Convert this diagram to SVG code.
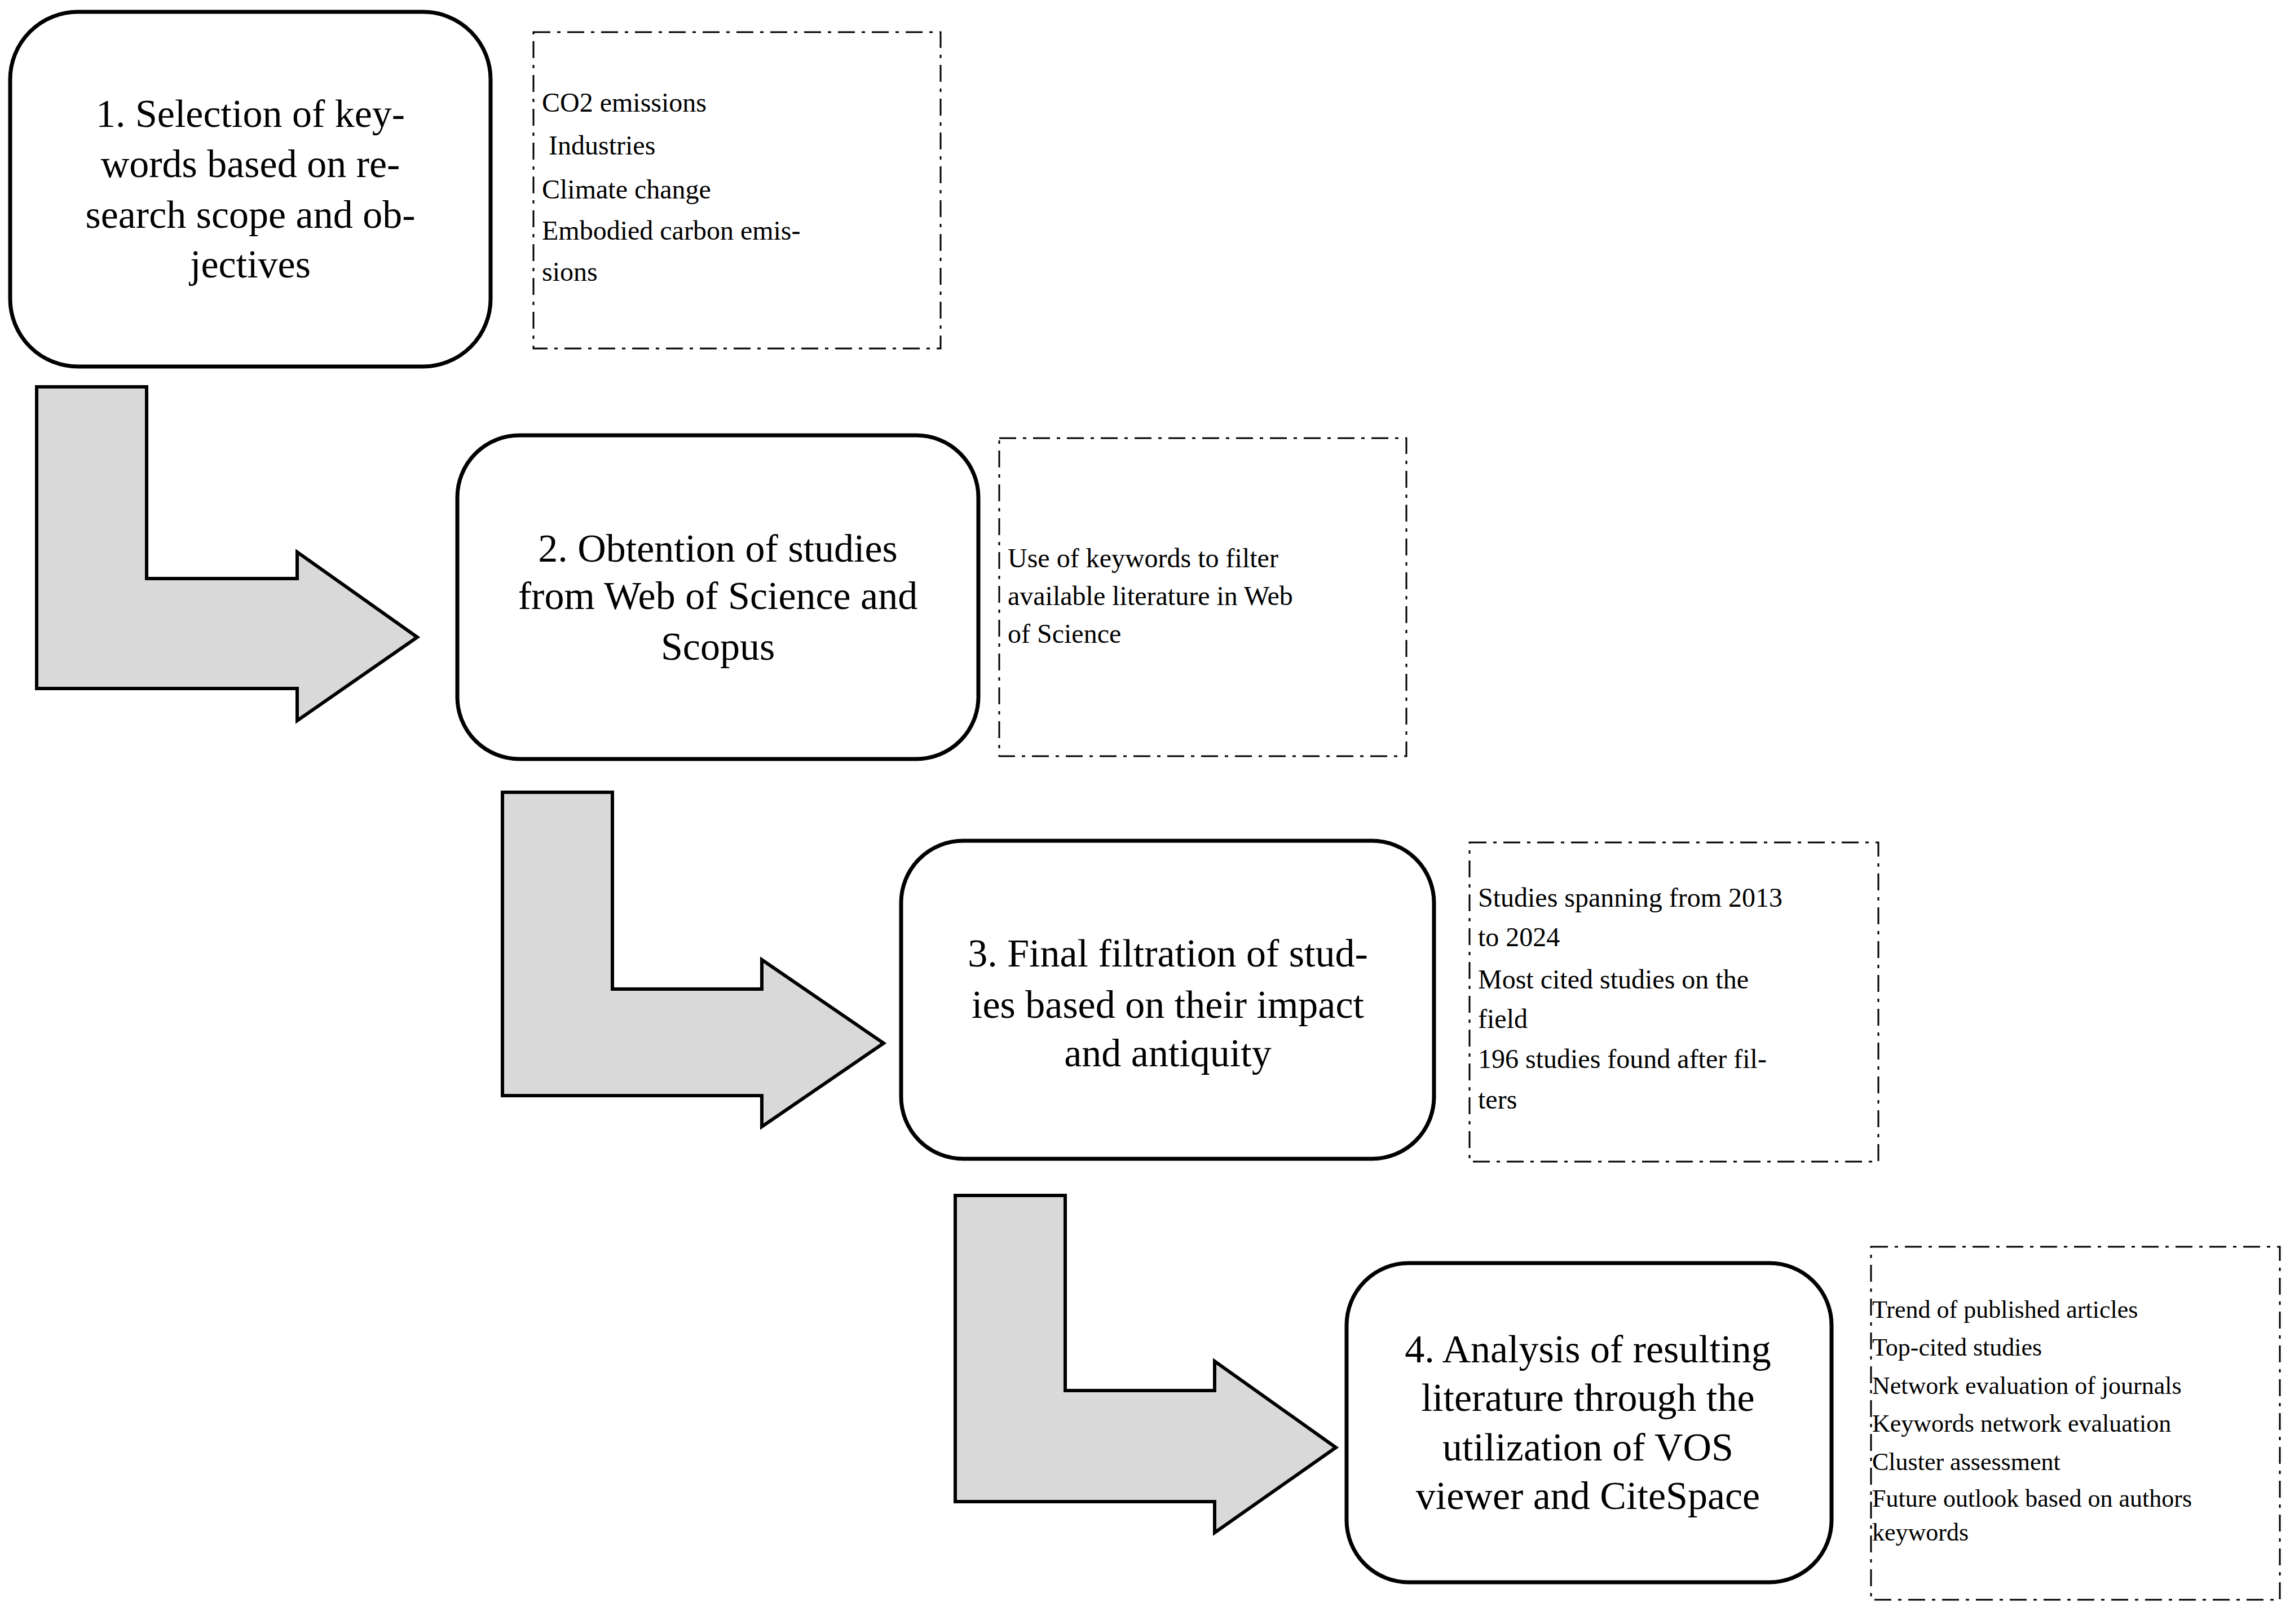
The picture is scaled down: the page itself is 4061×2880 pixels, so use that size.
<svg xmlns="http://www.w3.org/2000/svg" width="4061" height="2880" viewBox="0 0 4061 2880">
<style>
.box{fill:#fff;stroke:#000;stroke-width:7}
.dash{fill:none;stroke:#000;stroke-width:3;stroke-dasharray:30 12 6 12}
.arr{fill:#d9d9d9;stroke:#000;stroke-width:6;stroke-linejoin:miter}
.t{font-family:"Liberation Serif",serif;font-size:70px;text-anchor:middle;fill:#000}
.s{font-family:"Liberation Serif",serif;font-size:48px;fill:#000}
.s4{font-family:"Liberation Serif",serif;font-size:44px;fill:#000}
</style>
<rect width="4061" height="2880" fill="#fff"/>
<g id="connectors">
<polygon class="arr" points="65,686 260,686 260,1026 527,1026 527,979 740,1130 527,1278 527,1221 65,1221"/>
<polygon class="arr" points="891,1405 1086,1405 1086,1754 1351,1754 1351,1702 1567,1850 1351,1998 1351,1943 891,1943"/>
<polygon class="arr" points="1694,2120 1889,2120 1889,2466 2154,2466 2154,2414 2369,2567 2154,2718 2154,2663 1694,2663"/>
</g>
<g id="node1">
<rect class="box" x="18" y="21" width="852" height="629" rx="120"/>
<text class="t"><tspan x="444" y="225">1. Selection of key-</tspan><tspan x="444" y="314">words based on re-</tspan><tspan x="444" y="404">search scope and ob-</tspan><tspan x="444" y="492">jectives</tspan></text>
</g>
<g id="note1">
<rect class="dash" x="946" y="57" width="722" height="561"/>
<text class="s"><tspan x="961" y="198">CO2 emissions</tspan><tspan x="961" y="274"> Industries</tspan><tspan x="961" y="352">Climate change</tspan><tspan x="961" y="425">Embodied carbon emis-</tspan><tspan x="961" y="498">sions</tspan></text>
</g>
<g id="node2">
<rect class="box" x="811" y="772" width="924" height="574" rx="110"/>
<text class="t"><tspan x="1273" y="996">2. Obtention of studies</tspan><tspan x="1273" y="1080">from Web of Science and</tspan><tspan x="1273" y="1170">Scopus</tspan></text>
</g>
<g id="note2">
<rect class="dash" x="1772" y="777" width="722" height="564"/>
<text class="s"><tspan x="1787" y="1006">Use of keywords to filter</tspan><tspan x="1787" y="1073">available literature in Web</tspan><tspan x="1787" y="1140">of Science</tspan></text>
</g>
<g id="node3">
<rect class="box" x="1598" y="1491" width="945" height="564" rx="110"/>
<text class="t"><tspan x="2071" y="1714">3. Final filtration of stud-</tspan><tspan x="2071" y="1805">ies based on their impact</tspan><tspan x="2071" y="1891">and antiquity</tspan></text>
</g>
<g id="note3">
<rect class="dash" x="2606" y="1494" width="725" height="566"/>
<text class="s"><tspan x="2621" y="1608">Studies spanning from 2013</tspan><tspan x="2621" y="1678">to 2024</tspan><tspan x="2621" y="1753">Most cited studies on the</tspan><tspan x="2621" y="1823">field</tspan><tspan x="2621" y="1894">196 studies found after fil-</tspan><tspan x="2621" y="1966">ters</tspan></text>
</g>
<g id="node4">
<rect class="box" x="2388" y="2240" width="860" height="566" rx="110"/>
<text class="t"><tspan x="2816" y="2416">4. Analysis of resulting</tspan><tspan x="2816" y="2502">literature through the</tspan><tspan x="2816" y="2590">utilization of VOS</tspan><tspan x="2816" y="2676">viewer and CiteSpace</tspan></text>
</g>
<g id="note4">
<rect class="dash" x="3318" y="2211" width="725" height="626"/>
<text class="s4"><tspan x="3320" y="2337">Trend of published articles</tspan><tspan x="3320" y="2404">Top-cited studies</tspan><tspan x="3320" y="2472">Network evaluation of journals</tspan><tspan x="3320" y="2539">Keywords network evaluation</tspan><tspan x="3320" y="2607">Cluster assessment</tspan><tspan x="3320" y="2672">Future outlook based on authors</tspan><tspan x="3320" y="2732">keywords</tspan></text>
</g>
</svg>
